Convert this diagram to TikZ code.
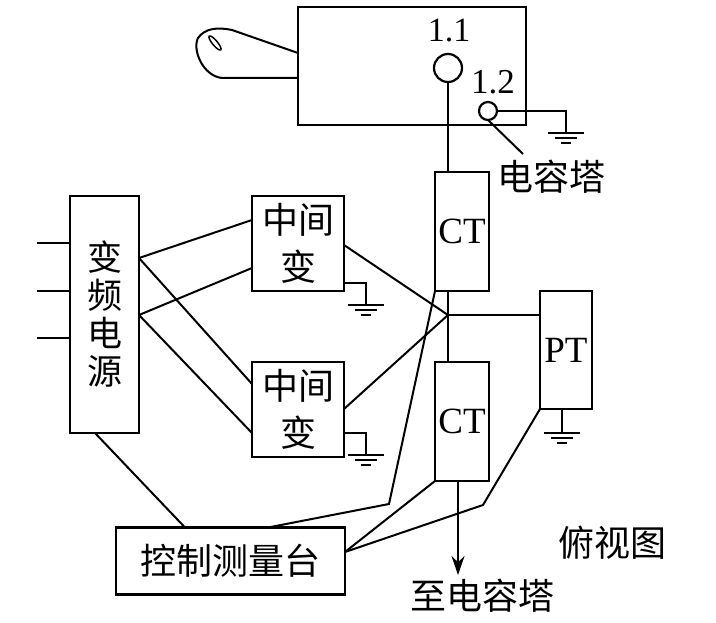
\documentclass[tikz,border=0pt]{standalone}
\usepackage{fontspec}
\setmainfont{Liberation Serif}
\newfontfamily\cjk{Noto Sans CJK SC}
\usetikzlibrary{arrows.meta}
\tikzset{
	wire/.style={line width=2pt},
	unit/.style={draw,line width=2.2pt,inner sep=0pt,outer sep=0pt,align=center},
	latin/.style={font=\fontsize{37}{38}\selectfont},
	han/.style={font=\cjk\fontsize{36}{38}\selectfont},
	earthsym/.pic={
		\draw[line width=2pt] (-18,0) -- (18,0);
		\draw[line width=2pt] (-11,5) -- (11,5);
		\draw[line width=2pt] (-5,10) -- (5,10);
	}
}
\begin{document}
\begin{tikzpicture}[x=1pt,y=-1pt]
	\useasboundingbox (0,0) rectangle (716,623);
	% top view of the tank
	\node[unit,minimum width=228pt,minimum height=118pt] (tank) at (412,66) {};
	\node[draw,circle,line width=2.2pt,minimum size=28pt,inner sep=0pt,outer sep=0pt] (bushA) at (448,68) {};
	\node[draw,circle,line width=2.2pt,minimum size=18pt,inner sep=0pt,outer sep=0pt] (bushB) at (488,111) {};
	\node[font=\fontsize{34}{36}\selectfont] (labelA) at (449,31) {1.1};
	\node[font=\fontsize{35}{36}\selectfont] (labelB) at (493,82) {1.2};
	\node[han] (tower) at (551,177) {电容塔};
	\coordinate (handleA) at (298,53);
	\coordinate (handleB) at (298,78);
	\draw[wire] (handleA) -- (232,30) .. controls (218,27) and (205,28) .. (198,38) .. controls (192,50) and (203,76) .. (222,78) -- (handleB);
	\draw[line width=1.5pt,rotate around={-50:(215,43)}] (215,43) ellipse (9 and 2.5);
	\coordinate (earthA) at (566,133);
	\coordinate (towerEnd) at (523,154);
	\draw[wire] (bushB.east) -| (earthA);
	\pic at (earthA) {earthsym};
	\draw[wire] (bushB.south) -- (towerEnd);
	% boxes
	\node[unit,minimum width=54pt,minimum height=119pt,latin] (ctA) at (462,231.5) {CT};
	\node[unit,minimum width=54pt,minimum height=119pt,latin] (ctB) at (462,421.5) {CT};
	\node[unit,minimum width=52pt,minimum height=118pt,latin] (pt) at (566,350) {PT};
	\node[unit,minimum width=69pt,minimum height=237pt,font=\cjk\fontsize{35}{38}\selectfont] (source) at (104.5,314.5) {变\\频\\电\\源};
	\node[unit,minimum width=92pt,minimum height=95pt,font=\cjk\fontsize{36}{47}\selectfont] (midA) at (298,243.5) {中间\\变};
	\node[unit,minimum width=92pt,minimum height=95pt,font=\cjk\fontsize{36}{47}\selectfont] (midB) at (298,409.5) {中间\\变};
	\node[unit,minimum width=229pt,minimum height=67pt,font=\cjk\fontsize{36}{38}\selectfont] (desk) at (230.5,561) {控制测量台};
	\node[han] (view) at (612,543) {俯视图};
	\node[han] (toTower) at (482,596) {至电容塔};
	% main lead
	\coordinate (joint) at (448,315);
	\draw[wire] (bushA.south) -- (bushA.south |- ctA.north);
	\draw[wire] (joint |- ctA.south) -- (joint |- ctB.north);
	\draw[wire] (joint) -- (pt.west |- joint);
	\draw[wire] ([yshift=-1.5pt]midA.east) -- (joint) -- ([yshift=0.5pt]midB.east);
	% inputs
	\foreach \y in {243,291,338}
		\draw[wire] (37,\y) -- (source.west |- 0,\y);
	% supply to the two intermediate transformers
	\coordinate (srcA) at (source.east |- 0,258);
	\coordinate (srcB) at (source.east |- 0,315);
	\draw[wire] (srcA) -- ([yshift=23.5pt]midA.west);
	\draw[wire] (srcA) -- ([yshift=25.5pt]midB.west);
	\draw[wire] (srcB) -- ([yshift=-24.5pt]midA.west);
	\draw[wire] (srcB) -- ([yshift=-23.5pt]midB.west);
	% earths
	\coordinate (earthB) at (366,305);
	\coordinate (earthC) at (366,455);
	\coordinate (earthD) at (562,433);
	\draw[wire] (midA.east |- 0,283) -| (earthB);
	\draw[wire] (midB.east |- 0,433) -| (earthC);
	\draw[wire] (pt.south -| earthD) -- (earthD);
	\pic at (earthB) {earthsym};
	\pic at (earthC) {earthsym};
	\pic at (earthD) {earthsym};
	% measuring leads
	\draw[wire] ([xshift=-9.5pt]source.south) -- ([xshift=-45.5pt]desk.north);
	\draw[wire] (ctA.south west) -- (389,504) -- ([xshift=37.5pt]desk.north);
	\draw[wire] (ctB.south west) -- ([yshift=9pt]desk.east);
	\draw[wire] (pt.south west) -- (483,505) -- ([yshift=9pt]desk.east);
	\draw[wire,-{Stealth[length=19pt,width=13pt]}] (458,481) -- (458,575);
\end{tikzpicture}
\end{document}
